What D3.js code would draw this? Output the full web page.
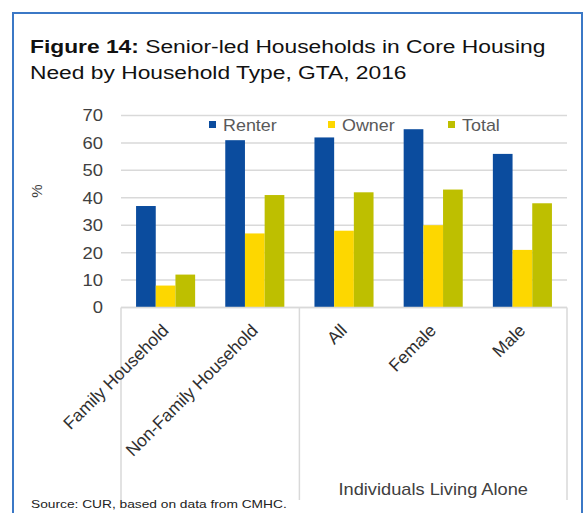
<!DOCTYPE html>
<html>
<head>
<meta charset="utf-8">
<script src="https://cdn.jsdelivr.net/npm/d3@7"></script>
<style>
  body { margin: 0; background: #fff; }
  text { font-family: "Liberation Sans", Arial, sans-serif; }
</style>
</head>
<body>
<svg id="chart" width="588" height="513"></svg>
<script>
const categories = ['Family Household', 'Non-Family Household', 'All', 'Female', 'Male'];
const seriesNames = ['Renter', 'Owner', 'Total'];
const renter = [37, 61, 62, 65, 56];
const owner = [8, 27, 28, 30, 21];
const total = [12, 41, 42, 43, 38];
const yTicks = [0, 10, 20, 30, 40, 50, 60, 70];
const colors = ['#0b4c9e', '#fdd700', '#bebf00'];

const values = { Renter: renter, Owner: owner, Total: total };
const rows = categories.map((c, i) => ({ cat: c, vals: seriesNames.map(s => ({ key: s, v: values[s][i] })) }));

const svg = d3.select('#chart');

// the original text is a little wider than Arial, so stretch it sideways
function wide(sel, x, y, sx) {
    return sel.attr('transform', `translate(${x},${y}) scale(${sx},1)`);
}

// outer frame
svg.append('rect')
    .attr('x', 13).attr('y', 13)
    .attr('width', 569).attr('height', 520)
    .attr('fill', 'none')
    .attr('stroke', '#3b78c6')
    .attr('stroke-width', 2);

// title
const title = wide(svg.append('text'), 30, 53, 1.2)
    .attr('font-size', 19).attr('fill', '#111');
title.append('tspan').attr('font-weight', 'bold').text('Figure 14:');
title.append('tspan').text(' Senior-led Households in Core Housing');
wide(svg.append('text'), 30, 79, 1.2)
    .attr('font-size', 19).attr('fill', '#111')
    .text('Need by Household Type, GTA, 2016');

const plotL = 121, plotR = 567, plotT = 115.5, plotB = 307.5;

const x0 = d3.scaleBand().domain(categories).range([plotL, plotR]).padding(0);
const x1 = d3.scaleBand().domain(seriesNames).range([0, x0.bandwidth()])
    .paddingInner(0).paddingOuter(0.765);
const y = d3.scaleLinear().domain([0, 70]).range([plotB, plotT]);

// gridlines
svg.append('g').selectAll('line').data(yTicks).enter().append('line')
    .attr('x1', plotL).attr('x2', plotR)
    .attr('y1', d => y(d)).attr('y2', d => y(d))
    .attr('stroke', '#d9d9d9').attr('stroke-width', 1.5);

// y axis labels
const yAxis = d3.axisLeft(y).tickValues(yTicks).tickSize(0).tickPadding(0);
const gy = svg.append('g').attr('transform', `translate(${plotL},0)`).call(yAxis);
gy.select('.domain').remove();
gy.selectAll('text')
    .attr('x', 0).attr('dy', '0.34em')
    .attr('transform', 'translate(-18,0) scale(1.15,1)')
    .attr('font-size', 16).attr('fill', '#404040')
    .style('font-family', '"Liberation Sans", Arial, sans-serif');

svg.append('text')
    .attr('transform', 'translate(42,191) rotate(-90)')
    .attr('text-anchor', 'middle').attr('font-size', 15).attr('fill', '#404040')
    .text('%');

// bars
svg.append('g').selectAll('g').data(rows).enter().append('g')
    .attr('transform', d => `translate(${x0(d.cat)},0)`)
    .selectAll('rect').data(d => d.vals).enter().append('rect')
    .attr('x', d => x1(d.key))
    .attr('width', x1.bandwidth())
    .attr('y', d => y(d.v))
    .attr('height', d => y(0) - y(d.v))
    .attr('fill', (d, i) => colors[i]);

// category separators
const seps = [plotL, x0('All'), plotR];
svg.append('g').selectAll('line').data(seps).enter().append('line')
    .attr('x1', d => d).attr('x2', d => d)
    .attr('y1', plotB).attr('y2', 500)
    .attr('stroke', '#d9d9d9').attr('stroke-width', 1.5);
svg.append('line')
    .attr('x1', plotL).attr('x2', plotR).attr('y1', plotB).attr('y2', plotB)
    .attr('stroke', '#d9d9d9').attr('stroke-width', 1.5);

// category labels
svg.append('g').selectAll('text').data(categories).enter().append('text')
    .attr('transform', d => `translate(${x0(d) + x0.bandwidth() / 2 + 4},${plotB + 24}) rotate(-45)`)
    .attr('text-anchor', 'end')
    .attr('font-size', 17.5).attr('fill', '#303030')
    .text(d => d);

wide(svg.append('text'), (x0('All') + plotR) / 2, 495, 1.14)
    .attr('text-anchor', 'middle').attr('font-size', 16).attr('fill', '#404040')
    .text('Individuals Living Alone');

// legend
const legendX = [209, 328, 448];
const lg = svg.append('g').selectAll('g').data(seriesNames).enter().append('g')
    .attr('transform', (d, i) => `translate(${legendX[i]},121)`);
lg.append('rect').attr('width', 7).attr('height', 7).attr('fill', (d, i) => colors[i]);
lg.append('text')
    .attr('transform', 'translate(14,9.5) scale(1.12,1)')
    .attr('font-size', 16).attr('fill', '#595959')
    .text(d => d);

// source
wide(svg.append('text'), 31, 508, 1.25)
    .attr('font-size', 11).attr('fill', '#222')
    .text('Source: CUR, based on data from CMHC.');
</script>
</body>
</html>
